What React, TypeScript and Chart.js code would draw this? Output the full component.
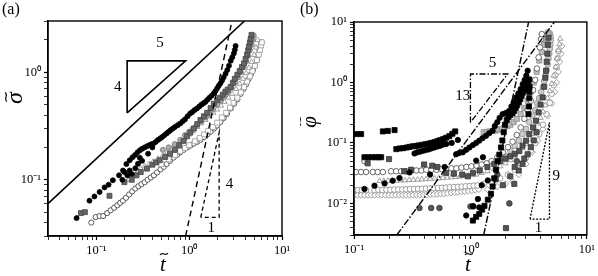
import React, { useEffect, useRef } from 'react';
import { Chart, registerables } from 'chart.js';
Chart.register(...registerables);

type P = [number, number];

// ---------------- Panel (a) data: [t, sigma] ----------------
const A_BLACK_CIRCLES: P[] = [[0.061,0.044],[0.084,0.064],[0.095,0.07],[0.108,0.077],[0.122,0.085],[0.135,0.09],[0.15,0.099],[0.175,0.11],[0.193,0.122],[0.21,0.14],[0.228,0.152],[0.245,0.162],[0.26,0.17],[0.277,0.18],[0.293,0.188],[0.31,0.194],[0.33,0.2],[0.35,0.205],[0.37,0.21],[0.39,0.214],[0.41,0.217],[0.435,0.225],[0.46,0.235],[0.485,0.242],[0.51,0.25],[0.54,0.26],[0.57,0.27],[0.6,0.28],[0.63,0.29],[0.665,0.3],[0.7,0.31],[0.75,0.322],[0.8,0.334],[0.85,0.35],[0.9,0.365],[0.96,0.39],[1.025,0.414],[1.08,0.428],[1.14,0.445],[1.21,0.46],[1.28,0.48],[1.35,0.5],[1.42,0.515],[1.49,0.53],[1.57,0.555],[1.65,0.58],[1.74,0.605],[1.84,0.637],[1.92,0.67],[2.0,0.71],[2.08,0.75],[2.17,0.79],[2.26,0.84],[2.35,0.9],[2.46,0.97],[2.57,1.05],[2.68,1.15],[2.8,1.28],[2.91,1.38],[3.03,1.5],[3.1,1.62],[3.16,1.76]];
const A_BLACK_CIRCLES_2: P[] = [[0.19,0.1],[0.2,0.118],[0.215,0.11],[0.228,0.122],[0.24,0.113],[0.262,0.128],[0.28,0.141],[0.293,0.16],[0.31,0.15],[0.36,0.175],[0.4,0.2]];
const A_GRAY_SQUARES: P[] = [[0.068,0.049],[0.075,0.05],[0.138,0.071],[0.2,0.095],[0.24,0.1],[0.27,0.11],[0.3,0.118],[0.35,0.127],[0.4,0.138],[0.44,0.145],[0.48,0.152],[0.55,0.163],[0.62,0.175],[0.7,0.19],[0.78,0.21],[0.87,0.23],[0.95,0.255],[1.03,0.275],[1.12,0.3],[1.22,0.33],[1.32,0.36],[1.44,0.39],[1.56,0.42],[1.7,0.465],[1.84,0.51],[2.0,0.55],[2.15,0.58],[2.3,0.62],[2.45,0.66],[2.6,0.69],[2.79,0.73],[2.95,0.8],[3.1,0.87],[3.3,0.95],[3.5,1.03],[3.7,1.12],[3.89,1.21],[4.05,1.33],[4.2,1.46],[4.32,1.6],[4.4,1.73],[4.5,1.9],[4.6,2.05],[4.69,2.23]];
const A_GRAY_CIRCLES: P[] = [[0.52,0.19],[0.6,0.2],[0.7,0.215],[0.8,0.235],[0.9,0.26],[1.0,0.28],[1.1,0.3],[1.2,0.32],[1.35,0.35],[1.5,0.38],[1.65,0.41],[1.8,0.45],[2.0,0.5],[2.2,0.55],[2.4,0.6],[2.6,0.65],[2.85,0.72],[3.1,0.8],[3.35,0.9],[3.6,1.0],[3.85,1.12],[4.1,1.26],[4.3,1.42],[4.5,1.6],[4.7,1.8],[4.85,2.0],[4.95,2.2]];
const A_OPEN_TRI: P[] = [[0.22,0.1],[0.25,0.11],[0.28,0.12],[0.3,0.127],[0.33,0.133],[0.37,0.14],[0.41,0.148],[0.46,0.157],[0.52,0.168],[0.58,0.18],[0.65,0.195],[0.72,0.21],[0.8,0.225],[0.9,0.245],[1.0,0.265],[1.1,0.285],[1.22,0.31],[1.35,0.335],[1.5,0.36],[1.65,0.39],[1.82,0.42],[2.0,0.45],[2.2,0.49],[2.4,0.53],[2.65,0.58],[2.9,0.63],[3.2,0.7],[3.5,0.78],[3.8,0.87],[4.1,0.98],[4.4,1.1],[4.7,1.25],[5.0,1.45],[5.25,1.7],[5.45,2.0]];
const A_OPEN_CIRCLES: P[] = [[0.088,0.04],[0.098,0.045],[0.108,0.046],[0.118,0.046],[0.13,0.049],[0.142,0.052],[0.155,0.055],[0.168,0.058],[0.18,0.061],[0.193,0.064],[0.208,0.068],[0.225,0.073],[0.243,0.078],[0.262,0.083],[0.283,0.087],[0.305,0.091],[0.33,0.095],[0.355,0.1],[0.385,0.105],[0.415,0.11],[0.45,0.117],[0.49,0.125],[0.53,0.132],[0.57,0.14],[0.62,0.15],[0.68,0.161],[0.74,0.171],[0.8,0.18],[0.87,0.19],[0.95,0.2],[1.03,0.208],[1.12,0.217],[1.22,0.226],[1.32,0.235],[1.44,0.25],[1.57,0.265],[1.7,0.28],[1.85,0.3],[2.0,0.32],[2.17,0.345],[2.35,0.375],[2.55,0.41],[2.8,0.46],[3.05,0.51],[3.3,0.56],[3.58,0.63],[3.85,0.7],[4.1,0.77],[4.35,0.86],[4.6,0.95],[4.85,1.05],[5.1,1.16],[5.35,1.3],[5.55,1.45],[5.72,1.6],[5.87,1.75],[6.0,1.9]];
const A_OPEN_SQUARES: P[] = [[0.5,0.14],[0.6,0.155],[0.7,0.17],[0.8,0.185],[0.9,0.198],[1.0,0.21],[1.15,0.228],[1.3,0.245],[1.45,0.265],[1.6,0.285],[1.8,0.31],[2.0,0.34],[2.25,0.38],[2.5,0.42],[2.75,0.47],[3.0,0.52],[3.3,0.58],[3.6,0.65],[3.9,0.73],[4.2,0.82],[4.5,0.92],[4.8,1.03],[5.1,1.15],[5.35,1.3],[5.6,1.46],[5.8,1.62],[5.95,1.78],[6.05,1.9]];
// guide lines (a)
const A_SLOPE_LINE: P[] = [[0.03,0.06],[3.94,3.0]];
const A_DASH_LINE: P[] = [[0.914,0.03],[2.89,3.0]];
const A_TRIANGLE: P[] = [[0.214,0.419],[0.214,1.276],[0.914,1.276],[0.214,0.419]];
const A_DASH_TRIANGLE: P[] = [[1.33,0.0447],[2.1,0.275],[2.1,0.0447],[1.33,0.0447]];
const A_NOTES: [string, number, number][] = [['5',0.484,1.88],['4',0.169,0.729],['4',2.72,0.092],['1',1.73,0.0358]];

// ---------------- Panel (b) data: [t, phi] ----------------
const B_BLACK_SQUARES: P[] = [[0.104,0.14],[0.115,0.14],[0.177,0.155],[0.195,0.158],[0.223,0.163],[0.123,0.058],[0.133,0.058],[0.143,0.058],[0.153,0.058],[0.162,0.058],[0.171,0.058],[0.231,0.079],[0.248,0.081],[0.265,0.082],[0.283,0.084],[0.3,0.086],[0.32,0.088],[0.34,0.089],[0.36,0.091],[0.385,0.093],[0.41,0.095],[0.435,0.097],[0.46,0.1],[0.49,0.103],[0.52,0.107],[0.55,0.111],[0.585,0.116],[0.62,0.122],[0.66,0.13],[0.7,0.142],[0.74,0.155],[1.05,0.0052],[1.12,0.006],[1.19,0.0067],[1.26,0.0079],[1.32,0.0091],[1.41,0.0115],[1.5,0.0144],[1.55,0.019],[1.6,0.026],[1.66,0.036],[1.71,0.05],[1.77,0.064],[1.83,0.084],[1.88,0.11],[1.93,0.15],[1.98,0.2],[2.05,0.24],[2.12,0.27],[2.2,0.29],[2.3,0.31],[2.38,0.34],[2.45,0.38],[2.52,0.42],[2.6,0.47],[2.68,0.53],[2.75,0.6],[2.82,0.68],[2.9,0.76],[2.97,0.85],[3.05,0.95],[3.12,1.05],[3.2,1.12],[3.15,0.3],[3.18,0.4],[3.2,0.55],[3.2,0.7],[3.22,0.85]];
const B_BLACK_CIRCLES: P[] = [[0.123,0.0173],[0.15,0.0196],[0.183,0.0214],[0.215,0.0237],[0.246,0.0263],[0.3,0.0325],[0.331,0.067],[0.35,0.07],[0.37,0.072],[0.39,0.074],[0.41,0.076],[0.435,0.078],[0.46,0.081],[0.49,0.084],[0.52,0.087],[0.55,0.09],[0.585,0.094],[0.62,0.096],[0.69,0.1],[0.78,0.112],[0.754,0.065],[0.8,0.068],[0.86,0.07],[0.92,0.077],[0.98,0.084],[1.05,0.092],[1.12,0.1],[1.19,0.109],[1.27,0.12],[1.36,0.131],[1.45,0.145],[1.55,0.159],[1.62,0.19],[1.7,0.22],[1.78,0.26],[1.89,0.3],[2.0,0.31],[2.08,0.32],[2.16,0.34],[2.25,0.4],[2.35,0.47],[2.47,0.565],[2.58,0.66],[2.7,0.78],[2.81,0.94],[2.92,1.1],[3.02,1.3],[3.1,1.56],[0.45,0.03],[0.6,0.04],[0.92,0.0063],[1.05,0.009],[1.19,0.0086],[1.16,0.0118],[1.25,0.02],[1.41,0.024],[1.12,0.051],[1.28,0.058]];
const B_OPEN_CIRCLES: P[] = [[0.123,0.05],[0.104,0.033],[0.115,0.033],[0.127,0.033],[0.145,0.033],[0.16,0.033],[0.177,0.033],[0.208,0.034],[0.23,0.034],[0.254,0.034],[0.281,0.034],[0.31,0.035],[0.343,0.035],[0.379,0.035],[0.418,0.036],[0.462,0.036],[0.51,0.036],[0.563,0.037],[0.622,0.037],[0.687,0.038],[0.758,0.038],[0.837,0.039],[0.924,0.04],[1.02,0.041],[1.13,0.042],[1.25,0.044],[1.38,0.046],[1.52,0.05],[1.7,0.058],[1.9,0.07],[2.1,0.085],[2.3,0.105],[2.5,0.135],[2.7,0.18],[2.9,0.25],[3.1,0.35],[3.3,0.5],[3.45,0.75],[3.6,1.1],[3.72,1.7],[3.85,2.6],[3.95,3.8],[4.04,5.2],[4.1,6.3]];
const B_OPEN_TRI: P[] = [[0.166,0.0235],[0.18,0.0235],[0.196,0.0236],[0.213,0.0237],[0.232,0.0238],[0.252,0.024],[0.274,0.0241],[0.298,0.0243],[0.324,0.0245],[0.352,0.0247],[0.383,0.025],[0.416,0.0252],[0.452,0.0255],[0.492,0.0258],[0.535,0.026],[0.581,0.0263],[0.632,0.0267],[0.687,0.027],[0.747,0.0274],[0.812,0.0278],[0.883,0.0283],[0.96,0.0288],[1.04,0.0294],[1.12,0.03],[1.25,0.032],[1.4,0.034],[1.6,0.037],[1.8,0.041],[2.0,0.046],[2.2,0.052],[2.4,0.06],[2.6,0.07],[2.8,0.082],[3.0,0.097],[3.2,0.115],[3.4,0.14],[3.6,0.17],[3.8,0.21],[4.0,0.26],[4.2,0.33],[4.4,0.42],[4.6,0.55],[4.8,0.72],[5.0,0.95],[5.2,1.3],[5.4,1.8],[5.55,2.5],[5.7,3.4],[5.8,4.3],[5.9,5.3]];
const B_OPEN_CIRCLES_GRAY: P[] = [[0.1,0.0166],[0.108,0.0166],[0.117,0.0166],[0.127,0.0166],[0.15,0.0166],[0.162,0.0167],[0.175,0.0167],[0.19,0.0168],[0.205,0.0168],[0.222,0.0169],[0.24,0.017],[0.26,0.017],[0.28,0.0171],[0.303,0.0172],[0.328,0.0173],[0.355,0.0174],[0.384,0.0175],[0.415,0.0176],[0.449,0.0177],[0.486,0.0178],[0.526,0.018],[0.569,0.0181],[0.615,0.0183],[0.665,0.0184],[0.72,0.0186],[0.78,0.0188],[0.84,0.019],[0.91,0.0192],[0.985,0.0194],[1.065,0.0196],[1.15,0.0198],[1.3,0.021],[1.5,0.023],[1.8,0.026],[2.1,0.03],[2.4,0.036],[2.7,0.045],[3.0,0.057],[3.3,0.075],[3.6,0.1],[3.9,0.14],[4.2,0.2],[4.5,0.3],[4.8,0.46],[5.0,0.65],[5.2,0.9],[5.35,1.3],[5.5,1.8],[5.6,2.5],[5.7,3.3]];
const B_OPEN_DIAMONDS: P[] = [[0.1,0.0137],[0.107,0.0137],[0.115,0.0137],[0.123,0.0137],[0.132,0.0137],[0.141,0.0137],[0.151,0.0137],[0.162,0.0137],[0.173,0.0137],[0.186,0.0137],[0.199,0.0137],[0.213,0.0137],[0.228,0.0137],[0.244,0.0137],[0.261,0.0137],[0.28,0.0137],[0.3,0.0137],[0.321,0.0137],[0.344,0.0137],[0.368,0.0137],[0.394,0.0138],[0.422,0.0139],[0.452,0.014],[0.484,0.0141],[0.518,0.0142],[0.555,0.0143],[0.594,0.0145],[0.636,0.0147],[0.681,0.0149],[0.73,0.0151],[0.78,0.0153],[0.835,0.0155],[0.895,0.0157],[0.96,0.016],[1.03,0.0163],[1.1,0.0166],[1.18,0.017],[1.4,0.017],[1.7,0.019],[2.0,0.021],[2.3,0.023],[2.6,0.03],[3.0,0.045],[3.4,0.07],[3.8,0.11],[4.2,0.17],[4.6,0.28],[5.0,0.45],[5.3,0.7],[5.5,1.0],[5.7,1.5],[5.85,2.2],[6.0,3.0],[6.1,4.0]];
const B_GRAY_SQUARES: P[] = [[0.131,0.046],[0.2,0.054],[0.27,0.034],[0.31,0.036],[0.4,0.044],[0.47,0.042],[0.52,0.04],[0.62,0.032],[0.72,0.031],[0.85,0.03],[0.95,0.028],[1.05,0.032],[1.2,0.035],[1.4,0.04],[1.6,0.045],[1.8,0.05],[2.0,0.055],[2.2,0.06],[2.4,0.066],[2.63,0.074],[2.8,0.09],[3.0,0.109],[3.2,0.14],[3.45,0.18],[3.66,0.233],[3.85,0.32],[4.0,0.43],[4.17,0.565],[4.3,0.85],[4.4,1.2],[4.46,1.56],[4.52,2.2],[4.58,3.0],[4.62,4.2],[4.68,5.5],[2.02,0.0039],[2.38,0.021],[1.65,0.025],[1.9,0.02],[2.2,0.028],[2.6,0.035],[2.8,0.045],[2.9,0.055],[3.1,0.065],[2.4,0.04],[3.3,0.085],[3.5,0.11],[3.7,0.15]];
const B_LIGHT_SQUARES: P[] = [[1.3,0.15],[1.38,0.152],[1.46,0.155],[1.55,0.158],[1.64,0.16],[1.74,0.165],[1.85,0.17],[1.96,0.18],[2.08,0.19],[2.2,0.2],[2.35,0.22],[2.5,0.25],[2.7,0.3],[2.9,0.38],[3.1,0.5],[3.3,0.7],[3.5,1.0],[3.7,1.5],[3.9,2.3],[4.1,3.2],[4.3,4.2],[4.5,5.2],[4.7,6.2]];
const B_LIGHT_CIRCLES: P[] = [[2.0,0.06],[2.2,0.075],[2.4,0.09],[2.6,0.11],[2.8,0.14],[3.0,0.17],[3.2,0.22],[3.4,0.28],[3.6,0.35],[3.75,0.45],[3.9,0.55],[4.05,0.7],[4.2,0.85],[4.3,1.05],[4.4,1.3],[4.5,1.6],[4.6,2.0],[4.68,2.5],[4.75,3.0],[4.8,3.6],[4.85,4.2],[4.9,5.0],[4.88,5.8],[4.8,6.5],[4.6,6.7]];
const B_GRAY_CIRCLES: P[] = [[0.365,0.0084],[0.46,0.0084],[0.542,0.0084],[1.0,0.0089],[1.06,0.0089],[2.16,0.01],[1.7,0.03],[2.5,0.05]];
// guide lines (b)
const B_STEEP_LINE: P[] = [[1.3,0.003],[3.16,10]];
const B_SHALLOW_LINE: P[] = [[0.233,0.003],[5.26,10]];
const B_DASHDOT_TRIANGLE: P[] = [[1.0,0.218],[1.0,1.38],[2.09,1.38],[1.0,0.218]];
const B_DOT_TRIANGLE: P[] = [[3.25,0.0055],[4.77,0.218],[4.77,0.0055],[3.25,0.0055]];
const B_NOTES: [string, number, number][] = [['5',1.545,2.12],['13',0.86,0.6],['9',5.47,0.0287],['1',3.84,0.00398]];

// ---------------- ticks ----------------
const A_X_TICKS = [0.03,0.04,0.05,0.06,0.07,0.08,0.09,0.1,0.2,0.3,0.4,0.5,0.6,0.7,0.8,0.9,1,2,3,4,5,6,7,8,9,10];
const A_Y_TICKS = [0.03,0.04,0.05,0.06,0.07,0.08,0.09,0.1,0.2,0.3,0.4,0.5,0.6,0.7,0.8,0.9,1,2,3];
const B_X_TICKS = [0.1,0.2,0.3,0.4,0.5,0.6,0.7,0.8,0.9,1,2,3,4,5,6,7,8,9,10];
const B_Y_TICKS = [0.003,0.004,0.005,0.006,0.007,0.008,0.009,0.01,0.02,0.03,0.04,0.05,0.06,0.07,0.08,0.09,0.1,0.2,0.3,0.4,0.5,0.6,0.7,0.8,0.9,1,2,3,4,5,6,7,8,9,10];
const MAJOR_LABELS: [number, string][] = [[0.01,'10⁻²'],[0.1,'10⁻¹'],[1,'10⁰'],[10,'10¹']];

const SERIF = '"Liberation Serif", "Times New Roman", serif';

function labelFor(v: number): string {
  for (const [m, s] of MAJOR_LABELS) if (Math.abs(v - m) / m < 1e-6) return s;
  return '';
}
function isMajor(v: number) { return labelFor(v) !== ''; }

function logAxis(min: number, max: number, ticks: number[], size: number, isX: boolean) {
  return {
    type: 'logarithmic' as const,
    min, max,
    afterBuildTicks: (s: any) => { s.ticks = ticks.map((v) => ({ value: v, major: isMajor(v) })); },
    afterFit: (s: any) => { if (isX) s.height = size; else s.width = size; },
    grid: {
      display: true, drawOnChartArea: false, drawTicks: true, tickLength: 4,
      tickColor: '#000', color: '#000',
      tickWidth: (c: any) => (c.tick && isMajor(c.tick.value) ? 1.2 : 0.8),
    },
    border: { display: true, color: '#000', width: 1.4 },
    ticks: {
      autoSkip: false, maxRotation: 0, minRotation: 0, padding: 3, color: '#000',
      font: { family: SERIF, size: 12.5 },
      callback: (v: any) => labelFor(Number(v)),
    },
  };
}

function pts(a: P[]) { return a.map(([x, y]) => ({ x, y })); }

function marker(data: P[], style: string, r: number, fill: string, edge: string, bw = 0.8) {
  return { data: pts(data), showLine: false, pointStyle: style, pointRadius: r, pointBackgroundColor: fill, pointBorderColor: edge, pointBorderWidth: bw, pointHoverRadius: r };
}
function guide(data: P[], width: number, dash: number[]) {
  return { data: pts(data), showLine: true, pointRadius: 0, borderColor: '#000', borderWidth: width, borderDash: dash, fill: false, tension: 0, clip: 0 };
}

interface Deco {
  panel: string; panelX: number;
  yTitle: string; yTitleX: number; yTitleY: number; yFont: number; yTildeOff: number;
  xTitleX: number; xTitleY: number;
  notes: [string, number, number][];
}

function tilde(ctx: CanvasRenderingContext2D, cx: number, cy: number, w: number) {
  ctx.beginPath();
  ctx.moveTo(cx - w / 2, cy + 1);
  ctx.bezierCurveTo(cx - w / 6, cy - 3.2, cx + w / 6, cy + 3.2, cx + w / 2, cy - 1);
  ctx.lineWidth = 1.1;
  ctx.strokeStyle = '#000';
  ctx.stroke();
}

function decorPlugin(d: Deco) {
  return {
    id: 'decor',
    afterDraw(chart: any) {
      const { ctx, chartArea: a, scales } = chart;
      ctx.save();
      // frame
      ctx.strokeStyle = '#000';
      ctx.lineWidth = 1.4;
      ctx.strokeRect(a.left, a.top, a.right - a.left, a.bottom - a.top);
      ctx.fillStyle = '#000';
      // panel label
      ctx.font = `16px ${SERIF}`;
      ctx.textAlign = 'left';
      ctx.textBaseline = 'top';
      ctx.fillText(d.panel, d.panelX, 2);
      // notes
      ctx.font = `15px ${SERIF}`;
      ctx.textAlign = 'center';
      ctx.textBaseline = 'middle';
      for (const [t, x, y] of d.notes) {
        ctx.fillText(t, scales.x.getPixelForValue(x), scales.y.getPixelForValue(y));
      }
      // x title: t with tilde
      ctx.font = `italic 21px ${SERIF}`;
      ctx.textBaseline = 'alphabetic';
      ctx.fillText('t', d.xTitleX, d.xTitleY);
      tilde(ctx, d.xTitleX + 1, d.xTitleY - 17, 8);
      // y title rotated
      ctx.translate(d.yTitleX, d.yTitleY);
      ctx.rotate(-Math.PI / 2);
      ctx.font = `italic ${d.yFont}px ${SERIF}`;
      ctx.textBaseline = 'middle';
      ctx.fillText(d.yTitle, 0, 2);
      tilde(ctx, 1, d.yTildeOff, 9);
      ctx.restore();
    },
  };
}

function buildA(canvas: HTMLCanvasElement) {
  return new Chart(canvas, {
    type: 'scatter',
    data: {
      datasets: [
        guide(A_SLOPE_LINE, 1.6, []),
        guide(A_DASH_LINE, 1.4, [6, 4]),
        guide(A_TRIANGLE, 1.6, []),
        guide(A_DASH_TRIANGLE, 1.3, [4, 3]),
        marker(A_BLACK_CIRCLES, 'circle', 2.5, '#000', '#000'),
        marker(A_BLACK_CIRCLES_2, 'circle', 2.5, '#000', '#000'),
        marker(A_GRAY_SQUARES, 'rect', 3.5, '#666', '#444'),
        marker(A_GRAY_CIRCLES, 'circle', 2.6, '#aaa', '#777'),
        marker(A_OPEN_TRI, 'triangle', 3.0, '#fff', '#888'),
        marker(A_OPEN_SQUARES, 'rect', 3.5, '#fff', '#999'),
        marker(A_OPEN_CIRCLES, 'circle', 2.6, '#fff', '#333'),
      ] as any,
    },
    options: {
      responsive: false, animation: false, devicePixelRatio: 1, events: [],
      layout: { padding: { left: 0, top: 21, right: 18, bottom: 0 } },
      plugins: { legend: { display: false }, tooltip: { enabled: false } },
      scales: { x: logAxis(0.03, 10, A_X_TICKS, 40, true), y: logAxis(0.03, 3, A_Y_TICKS, 48, false) } as any,
    },
    plugins: [decorPlugin({ panel: '(a)', panelX: 2, yTitle: 'σ', yTitleX: 14, yTitleY: 98, yFont: 24, yTildeOff: -8, xTitleX: 163, xTitleY: 271, notes: A_NOTES })],
  } as any);
}

function buildB(canvas: HTMLCanvasElement) {
  return new Chart(canvas, {
    type: 'scatter',
    data: {
      datasets: [
        guide(B_STEEP_LINE, 1.4, [7, 2, 1.5, 2]),
        guide(B_SHALLOW_LINE, 1.4, [7, 2, 1.5, 2]),
        guide(B_DASHDOT_TRIANGLE, 1.3, [6, 2, 1.5, 2]),
        guide(B_DOT_TRIANGLE, 1.3, [2, 1.5]),
        marker(B_BLACK_CIRCLES, 'circle', 2.7, '#000', '#000'),
        marker(B_BLACK_SQUARES, 'rect', 3.6, '#000', '#000'),
        marker(B_GRAY_SQUARES, 'rect', 3.6, '#555', '#333'),
        marker(B_GRAY_CIRCLES, 'circle', 2.8, '#555', '#333'),
        marker(B_OPEN_CIRCLES, 'circle', 2.8, '#fff', '#444'),
        marker(B_LIGHT_SQUARES, 'rect', 3.6, '#bbb', '#888'),
        marker(B_LIGHT_CIRCLES, 'circle', 2.9, '#ccc', '#888'),
        marker(B_OPEN_TRI, 'triangle', 3.1, '#fff', '#888'),
        marker(B_OPEN_CIRCLES_GRAY, 'circle', 2.8, '#fff', '#888'),
        marker(B_OPEN_DIAMONDS, 'rectRot', 3.1, '#fff', '#888'),
      ] as any,
    },
    options: {
      responsive: false, animation: false, devicePixelRatio: 1, events: [],
      layout: { padding: { left: 0, top: 22, right: 11, bottom: 0 } },
      plugins: { legend: { display: false }, tooltip: { enabled: false } },
      scales: { x: logAxis(0.1, 10, B_X_TICKS, 41, true), y: logAxis(0.003, 10, B_Y_TICKS, 54, false) } as any,
    },
    plugins: [decorPlugin({ panel: '(b)', panelX: 0, yTitle: 'φ', yTitleX: 8, yTitleY: 122, yFont: 21, yTildeOff: -8, xTitleX: 168, xTitleY: 271, notes: B_NOTES })],
  } as any);
}

export default function App() {
  const refA = useRef<HTMLCanvasElement>(null);
  const refB = useRef<HTMLCanvasElement>(null);
  useEffect(() => {
    const a = buildA(refA.current!);
    const b = buildB(refB.current!);
    return () => { a.destroy(); b.destroy(); };
  }, []);
  return (
    <div style={{ position: 'absolute', left: 0, top: 0, width: 598, height: 276, background: '#fff', overflow: 'hidden' }}>
      <canvas ref={refA} width={300} height={276} style={{ position: 'absolute', left: 0, top: 0, width: 300, height: 276 }} />
      <canvas ref={refB} width={298} height={276} style={{ position: 'absolute', left: 300, top: 0, width: 298, height: 276 }} />
    </div>
  );
}
